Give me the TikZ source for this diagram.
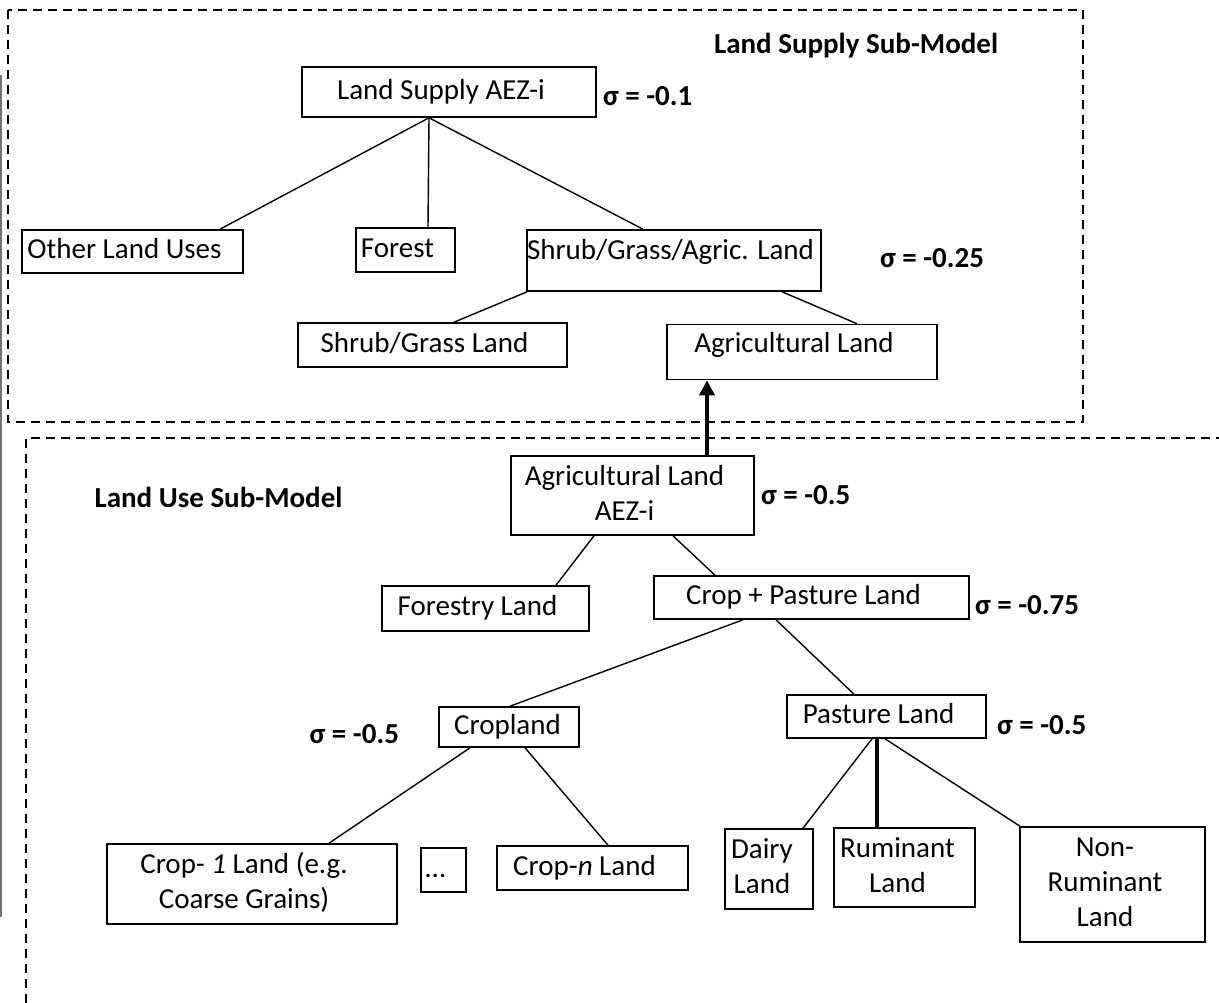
\documentclass[tikz,border=0pt]{standalone}
\usepackage{fontspec}
\setmainfont{Carlito}
\usetikzlibrary{arrows.meta,positioning}
\newcommand\boxtxt[2][16pt]{\makebox[0pt]{\begin{tabular}{@{}c@{\hspace{#1}}}#2\end{tabular}}}

\begin{document}
\begin{tikzpicture}[x=1pt,y=-1pt,font=\fontsize{29}{35}\selectfont]
  \tikzset{box/.style={draw,line width=1.6pt,inner sep=0pt},bsize/.style 2 args={minimum width=#1pt,minimum height=#2pt},
    sig/.style={font=\fontsize{29}{35}\selectfont\bfseries,inner sep=0pt},link/.style={line width=1.4pt},
    subframe/.style={line width=1.6pt,dash pattern=on 9pt off 6pt}}
  \useasboundingbox (0,0) rectangle (1219,1002);
  % frames of the two sub-models
  \draw[subframe] (8,10) rectangle (1083,422);
  \draw[subframe] (1240,438) -- (26,438) -- (26,1020);
  \draw[black!55,line width=1.2pt] (1,75) -- (1,917);
  % land supply sub-model
  \node[sig] (t1) at (856,46) {Land Supply Sub-Model};
  \node[box,bsize={294}{50}] (ls) at (449,92) {\boxtxt{Land Supply AEZ-i}};\node[sig,right=6pt of ls,yshift=-4pt] (s1) {σ = -0.1};
  \node[box,bsize={221}{43}] (ol) at (132.5,251.5) {\boxtxt{Other Land Uses}};\node[box,bsize={99}{44}] (fo) at (405.5,250) {\boxtxt{Forest}};
  \node[box,bsize={294}{61}] (sga) at (674,260.5) {\raisebox{8pt}[\height][\depth]{\boxtxt[7pt]{Shrub/Grass/Agric. Land}}};\node[sig,right=58pt of sga,yshift=2.5pt] (s2) {σ = -0.25};
  \node[box,bsize={269}{44}] (sg) at (432.5,345) {\boxtxt{Shrub/Grass Land}};\node[box,bsize={270}{55}] (agl) at (802,352) {\raisebox{7pt}[\height][\depth]{\boxtxt{Agricultural Land}}};
  % land use sub-model
  \node[sig] (t2) at (218.5,497) {Land Use Sub-Model};
  \node[box,bsize={243}{79}] (al) at (632.5,495.5) {\boxtxt{Agricultural Land\\AEZ-i}};\node[sig,right=6pt of al] (s3) {σ = -0.5};
  \node[box,bsize={207}{45}] (fl) at (485.5,608.5) {\boxtxt{Forestry Land}};\node[box,bsize={315}{43}] (cp) at (811.5,597.5) {\boxtxt{Crop + Pasture Land}};
  \node[sig,right=5pt of cp,yshift=-7.5pt] (s4) {σ = -0.75};
  \node[box,bsize={140}{40}] (cr) at (509,727) {\boxtxt[3pt]{Cropland}};\node[sig,left=39pt of cr,yshift=-7pt] (s5) {σ = -0.5};
  \node[box,bsize={199}{43}] (pl) at (886.5,716.5) {\boxtxt{Pasture Land}};\node[sig,right=10pt of pl,yshift=-9pt] (s6) {σ = -0.5};
  \node[box,bsize={290}{80}] (c1) at (252,884) {\boxtxt{Crop- \textit{1} Land (e.g.\\Coarse Grains)}};\node[box,bsize={45}{44}] (dots) at (443.5,870) {\boxtxt{…}};
  \node[box,bsize={191}{44}] (cn) at (592.5,868) {\boxtxt{Crop-\textit{n} Land}};\node[box,bsize={88}{80}] (dl) at (769,869) {\boxtxt[14pt]{Dairy\\Land}};
  \node[box,bsize={141}{79}] (rl) at (904.5,867.5) {\boxtxt[14pt]{Ruminant\\Land}};\node[box,bsize={185}{115}] (nrl) at (1112.5,884.5) {\boxtxt[15pt]{Non-\\Ruminant\\Land}};
  % nesting lines
  \foreach \a/\sa/\b/\sb in {ls/-20/ol/87.5,ls/-20/fo/22.5,ls/-20/sga/-31,sga/-147/sg/21.5,sga/108/agl/55,al/-38.5/fl/70.5,al/40.5/cp/-96.5,
    cp/-68.5/cr/1,cp/-35.5/pl/-32.5,cr/-39/c1/77,cr/16/cn/15.5,pl/-14.5/dl/34,pl/-1.5/nrl/-92.5}{\draw[link] ([xshift=\sa pt]\a.south)--([xshift=\sb pt]\b.north);}
  \draw[link,line width=3.3pt] ([xshift=-9.5pt]pl.south)--([xshift=-27.5pt]rl.north);
  \draw[-{Triangle[length=15pt,width=15pt]},line width=4pt] ([xshift=74.5pt]al.north)--([xshift=-95pt]agl.south);
\end{tikzpicture}
\end{document}
